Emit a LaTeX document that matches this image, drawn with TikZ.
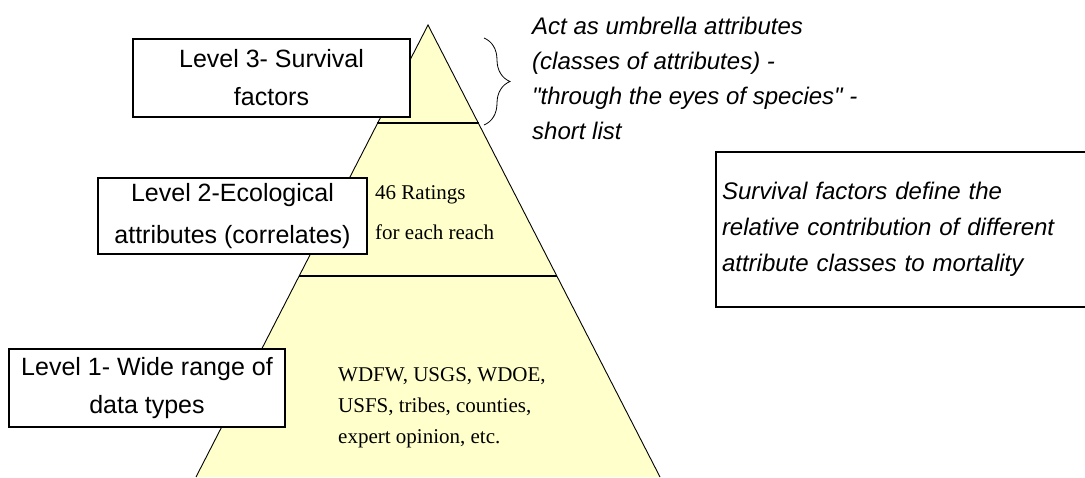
\documentclass[tikz,border=0pt]{standalone}
\usepackage{fontspec}
\setmainfont{Liberation Sans}[Ligatures=TeXOff]
\newfontfamily\timesf{Liberation Serif}
\usetikzlibrary{decorations.pathreplacing,calc}
\definecolor{pyr}{HTML}{FFFFCC}
\begin{document}
\begin{tikzpicture}[x=1pt,y=-1pt,
  lvl/.style={draw=black,line width=1.3pt,fill=white,align=center,inner sep=0pt},
  note/.style={align=left,inner sep=0pt,font=\fontsize{24}{35}\selectfont\itshape},
  inpyr/.style={align=left,inner sep=0pt},
  tier/.style={line width=2.6pt},
  side/.style={line width=0.9pt}]
\clip (0,0) rectangle (1085,477);
\fill[white] (0,0) rectangle (1085,477);
% pyramid
\coordinate (apex) at (428,25);
\coordinate (bl) at (196,477);
\coordinate (br) at (660,477);
\fill[pyr] (apex) -- (bl) -- (br) -- cycle;
\draw[side] (bl) -- (apex) -- (br);
\coordinate (t3l) at (377,123);
\coordinate (t3r) at (479,123);
\coordinate (t2l) at (299,276);
\coordinate (t2r) at (557,276);
\draw[tier] (t3l) -- (t3r);
\draw[tier] (t2l) -- (t2r);
% level boxes
\node[lvl,minimum width=277,minimum height=78,font=\fontsize{25}{38}\selectfont] (l3) at (271.5,78) {Level 3- Survival\\factors};
\node[lvl,minimum width=269,minimum height=76,font=\fontsize{25}{42}\selectfont] (l2) at (232.5,216) {Level 2-Ecological\\attributes (correlates)};
\node[lvl,minimum width=276,minimum height=78,font=\fontsize{25}{38}\selectfont] (l1) at (147,388) {Level 1- Wide range of\\data types};
% texts inside pyramid
\node[inpyr,anchor=west,font=\timesf\fontsize{21}{40}\selectfont] (rt) at (375,213) {46 Ratings\\for each reach};
\node[inpyr,anchor=west,font=\timesf\fontsize{21}{31}\selectfont] (src) at (338,408) {WDFW, USGS, WDOE,\\USFS, tribes, counties,\\expert opinion, etc.};
% brace
\coordinate (bt) at (484,38);
\coordinate (bb) at (484,125);
\draw[line width=0.8pt,decorate,decoration={brace,amplitude=26pt,aspect=0.5}] (bt) -- (bb);
% umbrella note
\node[note,anchor=west] (umb) at (532,78) {Act as umbrella attributes\\(classes of attributes) -\\"through the eyes of species" -\\short list};
% right box
\node[draw=black,line width=1.3pt,fill=white,minimum width=384,minimum height=155,text width=372,inner sep=6pt,align=left,font=\fontsize{24}{36}\selectfont\itshape] (sf) at (908,229.5) {Survival factors define the\\relative contribution of different\\attribute classes to mortality};
\end{tikzpicture}
\end{document}
